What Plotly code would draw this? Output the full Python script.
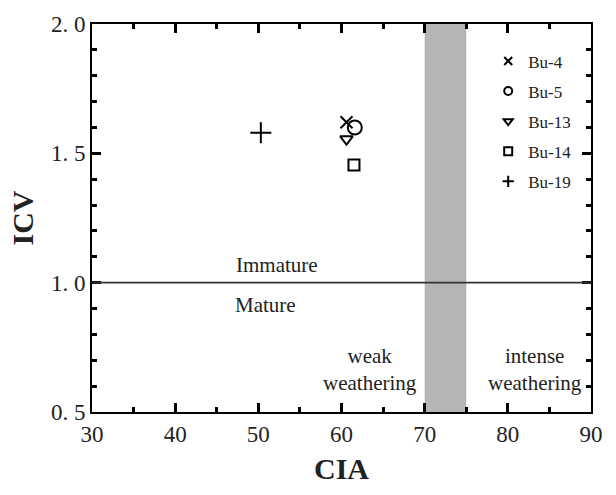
import plotly.graph_objects as go

# Sample geochemistry: CIA (chemical index of alteration) vs ICV (index of compositional variability)
samples = ["Bu-4", "Bu-5", "Bu-13", "Bu-14", "Bu-19"]
cia = [60.6, 61.6, 60.6, 61.5, 50.3]
icv = [1.62, 1.60, 1.555, 1.455, 1.58]
symbols = ["x-thin", "circle-open", "triangle-down-open", "square-open", "cross-thin"]
marker_sizes = [12, 14, 11, 11, 15]

x_range = [30, 90]
y_range = [0.5, 2.0]
x_ticks = [30, 40, 50, 60, 70, 80, 90]
y_ticks = [0.5, 1.0, 1.5, 2.0]
y_tick_text = ["0. 5", "1. 0", "1. 5", "2. 0"]

SERIF = "Liberation Serif, Times New Roman, serif"
INK = "#222222"

fig = go.Figure()

# transition zone between weak and intense weathering
fig.add_shape(type="rect", xref="x", yref="y", x0=70, x1=75, y0=y_range[0], y1=y_range[1],
              fillcolor="#b5b5b5", line_width=0, layer="below")
# maturity boundary
fig.add_shape(type="line", xref="x", yref="y", x0=x_range[0], x1=x_range[1], y0=1.0, y1=1.0,
              line=dict(color="#333333", width=1.6))

for name, xv, yv, sym, ms in zip(samples, cia, icv, symbols, marker_sizes):
    fig.add_trace(go.Scatter(
        x=[xv], y=[yv], mode="markers", name=name, showlegend=False,
        marker=dict(symbol=sym, size=ms, color="black",
                    line=dict(color="black", width=2)),
    ))
    # smaller legend glyph
    fig.add_trace(go.Scatter(
        x=[None], y=[None], mode="markers", name=name, legendgroup=name,
        marker=dict(symbol=sym, size=8, color="black",
                    line=dict(color="black", width=2)),
    ))

labels = [
    dict(x=52.2, y=1.07, text="Immature"),
    dict(x=50.9, y=0.912, text="Mature"),
    dict(x=63.4, y=0.665, text="weak<br>weathering"),
    dict(x=83.3, y=0.665, text="intense<br>weathering"),
]
for lb in labels:
    fig.add_annotation(x=lb["x"], y=lb["y"], text=lb["text"], showarrow=False,
                       xref="x", yref="y", align="center",
                       font=dict(family=SERIF, size=21, color=INK))

frame = dict(showgrid=False, zeroline=False, showline=True, linecolor="black",
             linewidth=2, mirror="ticks", ticks="inside", ticklen=9, tickwidth=3,
             tickcolor="black")

fig.update_layout(
    width=616, height=495,
    margin=dict(l=92, r=25, t=16, b=83),
    plot_bgcolor="white", paper_bgcolor="white",
    xaxis=dict(range=x_range, tickvals=x_ticks,
               minor=dict(dtick=5, tick0=30, ticks="inside", ticklen=5, tickwidth=3,
                          tickcolor="black"),
               tickfont=dict(family=SERIF, size=23, color=INK),
               title=dict(text="<b>CIA</b>", font=dict(family=SERIF, size=30, color=INK),
                          standoff=12),
               **frame),
    yaxis=dict(range=y_range, tickvals=y_ticks, ticktext=y_tick_text,
               minor=dict(dtick=0.1, tick0=0.5, ticks="inside", ticklen=5, tickwidth=3,
                          tickcolor="black"),
               tickfont=dict(family=SERIF, size=23, color=INK),
               title=dict(text="<b>ICV</b>", font=dict(family=SERIF, size=30, color=INK),
                          standoff=8),
               **frame),
    legend=dict(x=0.794, y=0.95, xanchor="left", yanchor="top",
                bgcolor="rgba(0,0,0,0)", tracegroupgap=5, itemwidth=30,
                font=dict(family=SERIF, size=17, color=INK)),
)

fig.write_html("out.html")
